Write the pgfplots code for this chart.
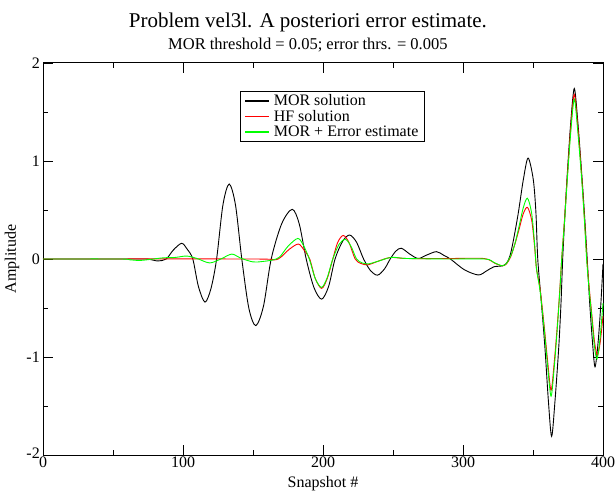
\documentclass[border=0pt]{standalone}
\usepackage{fontspec}
\setmainfont{Liberation Serif}
\usepackage{pgfplots}
\pgfplotsset{compat=1.18}
\definecolor{pgreen}{RGB}{0,255,0}
\begin{document}
\begin{tikzpicture}
\begin{axis}[
  name=ax,
  scale only axis,
  width=560bp, height=392bp,
  xmin=0, xmax=400, ymin=-2, ymax=2,
  xtick={0,100,200,300,400},
  xticklabels={0,100,200,300,400},
  ytick={-2,-1,0,1,2},
  yticklabels={\raisebox{4bp}{-2},-1,0,1,2},
  minor x tick num=1, minor y tick num=1,
  tick align=inside,
  major tick length=10bp, minor tick length=5bp,
  tick style={black, line width=0.8bp},
  axis line style={line width=1bp},
  ticklabel style={font=\fontsize{16bp}{18bp}\selectfont},
  xticklabel style={inner sep=2bp},
  yticklabel style={inner sep=3bp},
  xlabel={Snapshot \#}, ylabel={Amplitude},
  xlabel style={font=\fontsize{16bp}{18bp}\selectfont, at={(axis description cs:0.5,0)}, anchor=base, yshift=-32bp},
  ylabel style={font=\fontsize{16bp}{18bp}\selectfont, at={(axis description cs:-0.0554,0.5)}, anchor=center},
  clip=false,
  legend style={at={(rel axis cs:0.352,0.929)}, anchor=north west, draw=black, line width=0.8bp,
    font=\fontsize{16bp}{18bp}\selectfont, inner xsep=4bp, inner ysep=1.5bp, row sep=-1bp, column sep=2bp, cells={anchor=west}},
  legend image code/.code={\draw[#1, line width=1.3bp] (0bp,0bp) -- (24bp,0bp);},
  every axis plot/.append style={line width=0.9bp, smooth, tension=0.5},
]
\addplot[black] coordinates {
(0,0) (40,0) (70,0) (76,-0.003) (82,-0.02) (88,0) (93,0.09) (99,0.16) (103,0.1) (107,0)
(111,-0.28) (115.7,-0.44) (120,-0.3) (124,0) (128.5,0.55) (133,0.765) (137.5,0.55) (142,0)
(147,-0.5) (152,-0.68) (157.5,-0.48) (163,0) (170.5,0.36) (178,0.507) (183,0.36) (188,0)
(193.5,-0.29) (199,-0.41) (204,-0.28) (208.6,0) (214,0.18) (219,0.245) (224,0.17) (229,0)
(234,-0.12) (239,-0.165) (244,-0.1) (248,0) (252,0.08) (256,0.11) (262,0.05) (268,0.005)
(274,0.04) (281,0.075) (286,0.04) (291,0) (301,-0.11) (311,-0.163) (317,-0.12) (322,-0.08)
(328,-0.07) (331,-0.045) (333.5,0.03) (336,0.19) (339.5,0.47) (343.1,0.81) (346.5,1.03)
(350.2,0.81) (352.1,0.47) (353.4,0) (356,-0.45) (358.5,-0.9) (361,-1.45) (363.3,-1.81)
(365.7,-1.45) (368.4,-0.9) (370,-0.45) (371.2,0) (372.8,0.45) (374.5,0.87) (377,1.4)
(379.5,1.74) (382,1.4) (384.8,0.87) (386.8,0.45) (388.7,0) (390.5,-0.45) (392.5,-0.85)
(394.3,-1.1) (396.5,-0.85) (398.5,-0.45) (400,-0.05)
};
\addlegendentry{MOR solution}
\addplot[red] coordinates {
(0,0) (150,0) (165,-0.01) (170,0.02) (176,0.1) (182.4,0.153) (186.5,0.09) (190.5,0)
(194.5,-0.2) (199,-0.30) (203,-0.2) (207,0) (210.5,0.17) (214.5,0.24) (218.5,0.17) (223,0)
(227,-0.045) (232,-0.06) (238,-0.03) (248,0.015) (260,0.005) (290,0.005) (315,0.005)
(323,-0.045) (328,-0.07) (331,-0.05) (334,0.02) (337,0.15) (340,0.3) (343,0.46) (346,0.527)
(349,0.4) (351,0.15) (352.5,-0.1) (355,-0.3) (357.9,-0.67) (360.5,-1.05) (362.9,-1.34)
(365.2,-1.05) (367.4,-0.67) (369.2,-0.3) (370.5,0) (372.5,0.4) (374.5,0.84) (377,1.35)
(379.5,1.68) (382,1.35) (384.8,0.84) (386.8,0.4) (388.5,0) (390.2,-0.3) (391.9,-0.55)
(394,-0.85) (396,-0.98) (398,-0.85) (400,-0.58)
};
\addlegendentry{HF solution}
\addplot[pgreen] coordinates {
(0,0) (55,0) (62,-0.008) (69,-0.015) (76,-0.005) (86,0.012) (94,0.015) (102.6,0.03)
(110,0.005) (119,-0.04) (127,0) (134.8,0.05) (141,0.01) (150,-0.03) (157,-0.025) (164,-0.01)
(169,0.02) (175,0.13) (182,0.21) (186,0.14) (190.2,0) (194.5,-0.2) (199,-0.29) (203,-0.19)
(207,0) (211.5,0.15) (216,0.20) (220,0.13) (224,0) (228,-0.04) (232.4,-0.05) (240,-0.02)
(249,0.017) (260,0.005) (290,0) (316,0) (322,-0.035) (328,-0.07) (331,-0.045) (334,0.03)
(337,0.15) (340,0.33) (343,0.52) (346,0.62) (349,0.47) (351,0.18) (352.5,-0.1) (355,-0.32)
(357.9,-0.7) (360.5,-1.1) (362.9,-1.40) (365.2,-1.1) (367.4,-0.7) (369.2,-0.32) (370.5,0)
(372.5,0.38) (374.5,0.81) (377,1.3) (379.5,1.63) (382,1.3) (384.8,0.81) (386.8,0.38)
(388.3,0) (390,-0.3) (391.7,-0.55) (393.8,-0.88) (395.7,-1.02) (397.8,-0.82) (400,-0.45)
};
\addlegendentry{MOR + Error estimate}
\node[anchor=base, font=\fontsize{21bp}{24bp}\selectfont, yshift=35bp] at (axis description cs:0.473,1) {Problem vel3l. A posteriori error estimate.};
\node[anchor=base, font=\fontsize{16.5bp}{18bp}\selectfont, yshift=13bp] at (axis description cs:0.473,1) {MOR threshold = 0.05; error thrs. = 0.005};
\end{axis}
\pgfresetboundingbox
\path[use as bounding box] ([xshift=-43bp,yshift=-37bp]ax.south west) rectangle ([xshift=13bp,yshift=63bp]ax.north east);
\end{tikzpicture}
\end{document}
